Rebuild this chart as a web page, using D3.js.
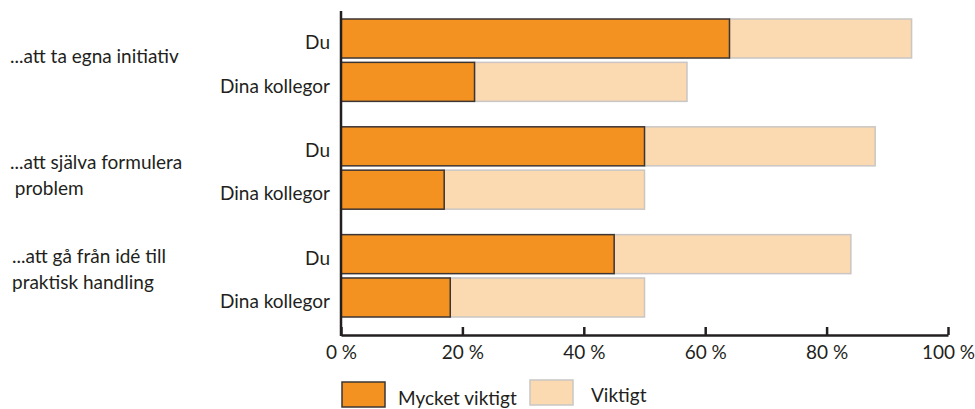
<!DOCTYPE html>
<html>
<head>
<meta charset="utf-8">
<script src="https://cdn.jsdelivr.net/npm/d3@7"></script>
<style>
  body { margin: 0; background: #fff; }
  text { font-family: Lato, "Open Sans", sans-serif; fill: #231f20; }
</style>
</head>
<body>
<script>
// Data
var groups = ['...att ta egna initiativ', '...att själva formulera problem', '...att gå från idé till praktisk handling'];
var groupLines = [['...att ta egna initiativ'], ['...att själva formulera', ' problem'], ['...att gå från idé till', 'praktisk handling']];
var respondents = ['Du', 'Dina kollegor'];
var series = ['Mycket viktigt', 'Viktigt'];
// one value per group x respondent, in order Du, Dina kollegor
var mycketViktigt = [64, 22, 50, 17, 45, 18];
var viktigt = [30, 35, 38, 33, 39, 32];
var xTicks = [0, 20, 40, 60, 80, 100];

// Set up size
var width = 975;
var height = 409;
var axisX = 341;
var fontSize = '19px';

var svg = d3.select('body').append('svg')
  .attr('width', width)
  .attr('height', height);

var x = d3.scaleLinear().domain([0, 100]).range([axisX, 948]);

var yGroup = d3.scaleBand()
  .domain(groups)
  .range([19, 317])
  .paddingInner(0.236)
  .paddingOuter(0);

var yRow = d3.scaleBand()
  .domain(respondents)
  .range([0, yGroup.bandwidth()])
  .paddingInner(0.1);

var colors = { 'Mycket viktigt': '#f39220', 'Viktigt': '#fbd9b1' };
var strokes = { 'Mycket viktigt': '#3c3533', 'Viktigt': '#c9c6c4' };

// build rows from the arrays
var rows = [];
groups.forEach(function(g, gi) {
  respondents.forEach(function(r, ri) {
    var i = gi * 2 + ri;
    rows.push({ group: g, gi: gi, who: r, mv: mycketViktigt[i], v: viktigt[i] });
  });
});

function rowY(d) { return yGroup(d.group) + yRow(d.who); }

// light bars first so the orange borders sit on top
svg.selectAll('rect.viktigt')
  .data(rows)
  .enter().append('rect')
  .attr('class', 'viktigt')
  .attr('x', function(d) { return x(d.mv); })
  .attr('y', rowY)
  .attr('width', function(d) { return x(d.mv + d.v) - x(d.mv); })
  .attr('height', yRow.bandwidth())
  .style('fill', colors['Viktigt'])
  .style('stroke', strokes['Viktigt'])
  .style('stroke-width', 1.5);

svg.selectAll('rect.mycket')
  .data(rows)
  .enter().append('rect')
  .attr('class', 'mycket')
  .attr('x', x(0))
  .attr('y', rowY)
  .attr('width', function(d) { return x(d.mv) - x(0); })
  .attr('height', yRow.bandwidth())
  .style('fill', colors['Mycket viktigt'])
  .style('stroke', strokes['Mycket viktigt'])
  .style('stroke-width', 1.5);

// respondent labels
svg.selectAll('text.who')
  .data(rows)
  .enter().append('text')
  .attr('class', 'who')
  .attr('x', 330)
  .attr('y', function(d) { return rowY(d) + yRow.bandwidth() / 2 + 4; })
  .attr('dy', '0.35em')
  .attr('text-anchor', 'end')
  .style('font-size', fontSize)
  .text(function(d) { return d.who; });

// group labels, first-line baselines
var groupLabelX = [10, 10, 12];
var groupLabelY = [63, 169, 263];

var gl = svg.selectAll('text.group')
  .data(groups)
  .enter().append('text')
  .attr('class', 'group')
  .attr('x', function(d, i) { return groupLabelX[i]; })
  .attr('y', function(d, i) { return groupLabelY[i]; })
  .style('font-size', fontSize)
  .style('white-space', 'pre');

gl.selectAll('tspan')
  .data(function(d, i) { return groupLines[i]; })
  .enter().append('tspan')
  .attr('x', function() { return d3.select(this.parentNode).attr('x'); })
  .attr('dy', function(d, i) { return i == 0 ? 0 : 26; })
  .text(function(d) { return d; });

// x axis
var xAxis = d3.axisBottom(x)
  .tickValues(xTicks)
  .tickSize(-8)
  .tickSizeOuter(0)
  .tickPadding(11)
  .tickFormat(function(d) { return d + ' %'; });

var ax = svg.append('g')
  .attr('transform', 'translate(0,335)')
  .call(xAxis);
ax.select('.domain').attr('stroke', '#231f20').attr('stroke-width', 2.5);
ax.selectAll('.tick line').attr('stroke', '#231f20').attr('stroke-width', 2.5);
ax.selectAll('.tick text')
  .style('font-size', fontSize)
  .style('font-family', 'Lato, sans-serif')
  .attr('fill', '#231f20');

// y axis line
svg.append('line')
  .attr('x1', axisX).attr('x2', axisX)
  .attr('y1', 11).attr('y2', 336)
  .attr('stroke', '#231f20')
  .attr('stroke-width', 2.5);

// legend
var legendX = [342, 530];
var legendTextX = [398, 591];
var legendY = [382, 380];
var legendTextY = [405, 402];

var lg = svg.selectAll('g.legend')
  .data(series)
  .enter().append('g')
  .attr('class', 'legend');

lg.append('rect')
  .attr('x', function(d, i) { return legendX[i]; })
  .attr('y', function(d, i) { return legendY[i]; })
  .attr('width', 43)
  .attr('height', 25)
  .style('fill', function(d) { return colors[d]; })
  .style('stroke', function(d) { return strokes[d]; })
  .style('stroke-width', 1.5);

lg.append('text')
  .attr('x', function(d, i) { return legendTextX[i]; })
  .attr('y', function(d, i) { return legendTextY[i]; })
  .style('font-size', fontSize)
  .text(function(d) { return d; });
</script>
</body>
</html>
